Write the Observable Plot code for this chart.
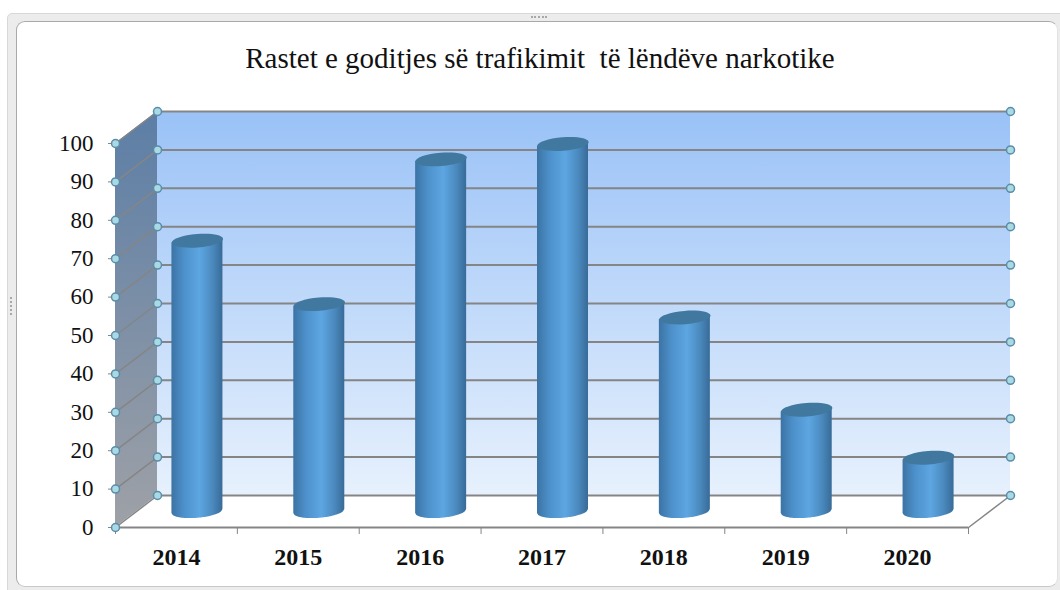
<!DOCTYPE html>
<html>
<head>
<meta charset="utf-8">
<script src="https://cdn.jsdelivr.net/npm/d3@7"></script>
<script src="https://cdn.jsdelivr.net/npm/@observablehq/plot@0.6"></script>
<style>
html,body{margin:0;padding:0;background:#fff;width:1060px;height:590px;overflow:hidden;font-family:"Liberation Serif",serif}
#outer{position:absolute;left:7px;top:13px;width:1060px;height:584px;background:#ececec;border:1px solid #d8d8d8;border-radius:5px 0 0 0;box-sizing:border-box}
#inner{position:absolute;left:16px;top:21px;width:1042px;height:566px;background:#fff;border:1.5px solid #a9a9a9;border-right-color:#e2e2e2;border-bottom-color:#c8c8c8;border-radius:9px;box-sizing:border-box}
.grip{position:absolute;border:0 dotted #a8a8a8}
#gripTop{left:531px;top:16px;width:16px;border-top-width:2px}
#gripLeft{left:10px;top:297px;height:18px;border-left-width:2px}
#title{position:absolute;left:0;top:40px;width:1080px;text-align:center;font-size:29px;line-height:36px;color:#111;white-space:pre;z-index:2}
#chart{position:absolute;left:0;top:80px;z-index:1}
#chart svg{display:block;overflow:visible;background:transparent}
</style>
</head>
<body>
<div id="outer"></div>
<div id="inner"></div>
<div class="grip" id="gripTop"></div>
<div class="grip" id="gripLeft"></div>
<div id="title">Rastet e goditjes së trafikimit  të lëndëve narkotike</div>
<div id="chart"></div>
<script>
const years = ["2014", "2015", "2016", "2017", "2018", "2019", "2020"];
const counts = [70.5, 54, 91.7, 95.7, 50.5, 26.5, 14];
const valueTicks = [0, 10, 20, 30, 40, 50, 60, 70, 80, 90, 100];

const unitX = 853 / years.length;
const unitY = 384 / 100;
const depthX = 42 / unitX;
const depthY = 32 / unitY;
const barWidth = 51 / unitX;
const gridColor = "#858585";

const table = years.map((year, i) => ({year, count: counts[i], mid: i + 0.5}));
const boundaries = d3.range(years.length + 1);

// outline of each cylinder body: flat-topped on the cap's centre line, rounded at the foot
const capRy = 6.8 / unitY, capTilt = 2 / unitY;
const bodyOutline = table.flatMap(d => d3.range(-1, 1.0001, 0.05).map(t => ({
  year: d.year,
  x: d.mid + t * barWidth / 2,
  y1: t * capTilt - Math.sqrt(Math.max(0, 1 - t * t)) * capRy,
  y2: d.count + t * capTilt
})));

const ellipse = {
  draw(ctx, size) {
    const rx = Math.sqrt(size / Math.PI), ry = rx * 0.26, a = -4.5 * Math.PI / 180, k = 0.5523;
    const P = (x, y) => [x * Math.cos(a) - y * Math.sin(a), x * Math.sin(a) + y * Math.cos(a)];
    const c = (x1, y1, x2, y2, x, y) => ctx.bezierCurveTo(...P(x1, y1), ...P(x2, y2), ...P(x, y));
    ctx.moveTo(...P(rx, 0));
    c(rx, k * ry, k * rx, ry, 0, ry);
    c(-k * rx, ry, -rx, k * ry, -rx, 0);
    c(-rx, -k * ry, -k * rx, -ry, 0, -ry);
    c(k * rx, -ry, rx, -k * ry, rx, 0);
    ctx.closePath();
  }
};

const defs = () => {
  const d = d3.create("svg:defs");
  const grad = (id, x2, y2, stops) => {
    const g = d.append("linearGradient").attr("id", id)
      .attr("x1", 0).attr("y1", 0).attr("x2", x2).attr("y2", y2);
    stops.forEach(([o, c]) => g.append("stop").attr("offset", o).attr("stop-color", c));
  };
  grad("wall", 0, 1, [[0, "#9ac2f7"], [1, "#e7f1fd"]]);
  grad("side", 0, 1, [[0, "#5c7ea6"], [1, "#9ea1a7"]]);
  grad("cyl", 1, 0, [[0, "#3c73a4"], [0.25, "#4d91cb"], [0.55, "#5da6e2"], [0.8, "#4b8abf"], [1, "#386b98"]]);
  return d.node();
};

const wallMarker = {r: 4, fill: "#a9d9e2", stroke: "#5a8cab", strokeWidth: 1.5};

const plot = Plot.plot({
  width: 1060,
  height: 510,
  marginLeft: 115,
  marginRight: 92,
  marginTop: 63,
  marginBottom: 63,
  style: {background: "transparent", overflow: "visible", fontFamily: "'Liberation Serif', serif"},
  x: {domain: [0, years.length], range: [115, 968], axis: null},
  y: {domain: [0, 100], range: [447, 63], axis: null},
  marks: [
    defs,
    // back wall and side wall
    Plot.rect([0], {x1: depthX, x2: years.length + depthX, y1: depthY, y2: 100 + depthY, fill: "url(#wall)"}),
    Plot.areaY([0, depthX], {
      x: d => d,
      y1: d => (d === 0 ? 0 : depthY),
      y2: d => (d === 0 ? 100 : 100 + depthY),
      fill: "url(#side)"
    }),
    // gridlines on the back wall and the side wall
    Plot.ruleY(valueTicks, {
      x1: depthX, x2: years.length + depthX, y: d => d + depthY,
      stroke: gridColor, strokeWidth: 2
    }),
    Plot.link(valueTicks, {
      x1: 0, y1: d => d, x2: depthX, y2: d => d + depthY,
      stroke: gridColor, strokeWidth: 1.5
    }),
    // floor edges and category axis line
    Plot.link([0], {
      x1: years.length, y1: 0, x2: years.length + depthX, y2: depthY,
      stroke: gridColor, strokeWidth: 1.5
    }),
    Plot.ruleY([0], {x1: 0, x2: years.length, stroke: gridColor, strokeWidth: 2}),
    Plot.ruleX(boundaries, {y1: 0, y2: -7 / unitY, stroke: gridColor, strokeWidth: 1}),
    // value axis
    Plot.axisY(valueTicks, {
      anchor: "left", tickSize: 7, tickPadding: 15, stroke: gridColor,
      fontSize: 23, fill: "#111", label: null, tickFormat: d => String(d)
    }),
    // category axis labels
    Plot.axisX(table.map(d => d.mid), {
      anchor: "bottom", tickSize: 0, tickPadding: 20,
      tickFormat: d => years[Math.floor(d)],
      fontSize: 24, fontWeight: "bold", fill: "#111", label: null
    }),
    // round markers at each gridline end
    Plot.dot(valueTicks, {x: depthX, y: d => d + depthY, ...wallMarker}),
    Plot.dot(valueTicks, {x: years.length + depthX, y: d => d + depthY, ...wallMarker}),
    Plot.dot(valueTicks, {x: 0, y: d => d, ...wallMarker}),
    // cylinders
    Plot.areaY(bodyOutline, {
      x: "x", y1: "y1", y2: "y2", z: "year", dx: 21, dy: -16, fill: "url(#cyl)"
    }),
    Plot.dot(table, {x: "mid", y: "count", r: 25.7, symbol: ellipse, dx: 21, dy: -16, fill: "#41789f"})
  ]
});
document.getElementById("chart").appendChild(plot);
</script>
</body>
</html>
